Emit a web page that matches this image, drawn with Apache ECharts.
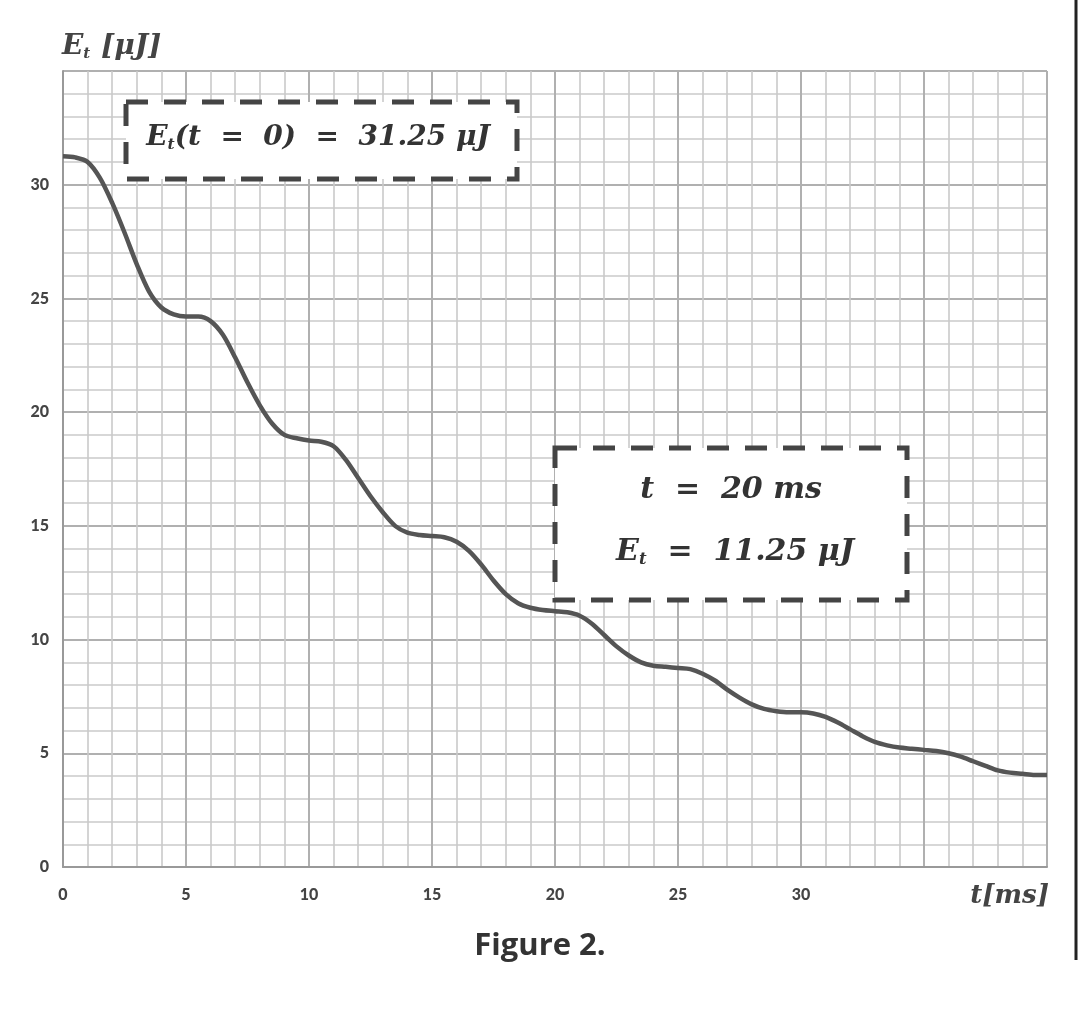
<!DOCTYPE html>
<html>
<head>
<meta charset="utf-8">
<script src="https://cdn.jsdelivr.net/npm/echarts@6/dist/echarts.min.js"></script>
<style>
html,body{margin:0;padding:0;background:#fff;}
#chart{width:1080px;height:1010px;}
</style>
</head>
<body>
<div id="chart"></div>
<script>
// time (ms)
const tValues = [0,0.5,1,1.5,2,2.5,3,3.5,4,4.5,5,5.5,6,6.5,7,7.5,8,8.5,9,9.5,10,10.5,11,11.5,12,12.5,13,13.5,14,14.5,15,15.5,16,16.5,17,17.5,18,18.5,19,19.5,20,20.5,21,21.5,22,22.5,23,23.5,24,24.5,25,25.5,26,26.5,27,27.5,28,28.5,29,29.5,30,30.5,31,31.5,32,32.5,33,33.5,34,34.5,35,35.5,36,36.5,37,37.5,38,38.5,39,39.5,40];
// energy (μJ)
const eValues = [31.25,31.2,31.0,30.3,29.2,27.9,26.5,25.3,24.6,24.3,24.2,24.2,24.0,23.4,22.4,21.3,20.3,19.5,19.0,18.85,18.75,18.7,18.5,17.9,17.1,16.3,15.6,15.0,14.7,14.6,14.55,14.5,14.3,13.9,13.3,12.6,12.0,11.6,11.4,11.3,11.25,11.2,11.05,10.7,10.2,9.7,9.3,9.0,8.85,8.8,8.75,8.7,8.5,8.2,7.8,7.45,7.15,6.95,6.85,6.8,6.8,6.75,6.6,6.35,6.05,5.75,5.5,5.35,5.25,5.2,5.15,5.1,5.0,4.85,4.65,4.45,4.25,4.15,4.1,4.05,4.05];
const xTickLabels = ['0','5','10','15','20','25','30'];
const yTickLabels = ['0','5','10','15','20','25','30'];
const note1 = ['E', 't', '(t  =  0)  =  31.25 μJ'];
const note2a = 't  =  20 ms';
const note2b = ['E', 't', '  =  11.25 μJ'];

const data = tValues.map((t, i) => [t, eValues[i]]);
const chart = echarts.init(document.getElementById('chart'));
const serif = '"DejaVu Serif", "Liberation Serif", serif';
const sans = 'Lato, "Open Sans", sans-serif';

chart.setOption({
  animation: false,
  backgroundColor: '#fff',
  grid: {left: 63, right: 33, top: 71, bottom: 143},
  xAxis: {
    type: 'value', min: 0, max: 40, interval: 5,
    name: 't[ms]', nameLocation: 'end', nameGap: 2,
    nameTextStyle: {fontFamily: serif, fontStyle: 'italic', fontWeight: 'bold', fontSize: 26, color: '#444',
      align: 'right', verticalAlign: 'top', padding: [16, 0, 0, 0]},
    axisLine: {show: true, lineStyle: {color: '#999', width: 2}},
    axisTick: {show: false},
    axisLabel: {margin: 20, fontFamily: sans, fontWeight: 900, fontSize: 16, color: '#444',
      formatter: v => xTickLabels.includes(String(v)) ? String(v) : ''},
    splitLine: {show: true, lineStyle: {color: '#b0b0b0', width: 2}},
    minorTick: {show: false, splitNumber: 5},
    minorSplitLine: {show: true, lineStyle: {color: '#cacaca', width: 1.6}}
  },
  yAxis: {
    type: 'value', min: 0, max: 35, interval: 5,
    axisLine: {show: true, lineStyle: {color: '#999', width: 2}},
    axisTick: {show: false},
    axisLabel: {margin: 14, fontFamily: sans, fontWeight: 900, fontSize: 16, color: '#444',
      formatter: v => yTickLabels.includes(String(v)) ? String(v) : ''},
    splitLine: {show: true, lineStyle: {color: '#b0b0b0', width: 2}},
    minorTick: {show: false, splitNumber: 5},
    minorSplitLine: {show: true, lineStyle: {color: '#cacaca', width: 1.6}}
  },
  series: [{
    type: 'line', data: data, smooth: 0.3, showSymbol: false,
    lineStyle: {color: '#555', width: 4.5}
  }]
});

function note(x, y, parts, size, align) {
  return {
    type: 'text', x: x, y: y, z: 20,
    style: {
      text: '{i|' + parts[0] + '}{s|' + parts[1] + '}{i|' + parts[2] + '}',
      align: align || 'center', verticalAlign: 'middle',
      rich: {
        i: {fontFamily: serif, fontStyle: 'italic', fontWeight: 'bold', fontSize: size, fill: '#333'},
        s: {fontFamily: serif, fontStyle: 'italic', fontWeight: 'bold', fontSize: size * 0.55, fill: '#333', verticalAlign: 'bottom', padding: [size*0.5, 0, 0, 0]}
      }
    }
  };
}

chart.setOption({
  graphic: [
    {type: 'rect', z: 10, shape: {x: 126, y: 102, width: 391, height: 77},
      style: {fill: '#fff', stroke: '#444', lineWidth: 5, lineDash: [22, 16]}},
    note(318, 138, note1, 28),
    {type: 'rect', z: 10, shape: {x: 555, y: 448, width: 352, height: 152},
      style: {fill: '#fff', stroke: '#444', lineWidth: 5, lineDash: [22, 16]}},
    {type: 'text', x: 731, y: 490, z: 20,
      style: {text: note2a, align: 'center', verticalAlign: 'middle',
        fontFamily: serif, fontStyle: 'italic', fontWeight: 'bold', fontSize: 30, fill: '#333'}},
    note(735, 552, note2b, 30),
    {type: 'text', x: 62, y: 47, z: 20,
      style: {text: '{i|E}{s|t}  {b|[μJ]}', align: 'left', verticalAlign: 'middle',
        rich: {
          i: {fontFamily: serif, fontStyle: 'italic', fontWeight: 'bold', fontSize: 28, fill: '#444'},
          s: {fontFamily: serif, fontStyle: 'italic', fontWeight: 'bold', fontSize: 15, fill: '#444', padding: [14, 4, 0, 0]},
          b: {fontFamily: serif, fontStyle: 'italic', fontWeight: 'bold', fontSize: 28, fill: '#444'}
        }}},
    {type: 'text', x: 540, y: 946, z: 20,
      style: {text: 'Figure 2.', align: 'center', verticalAlign: 'middle',
        fontFamily: '"Open Sans", Lato, sans-serif', fontWeight: 'bold', fontSize: 31, fill: '#333'}},
    {type: 'line', z: 20, shape: {x1: 1076, y1: 0, x2: 1076, y2: 960},
      style: {stroke: '#222', lineWidth: 3}}
  ]
});
</script>
</body>
</html>
